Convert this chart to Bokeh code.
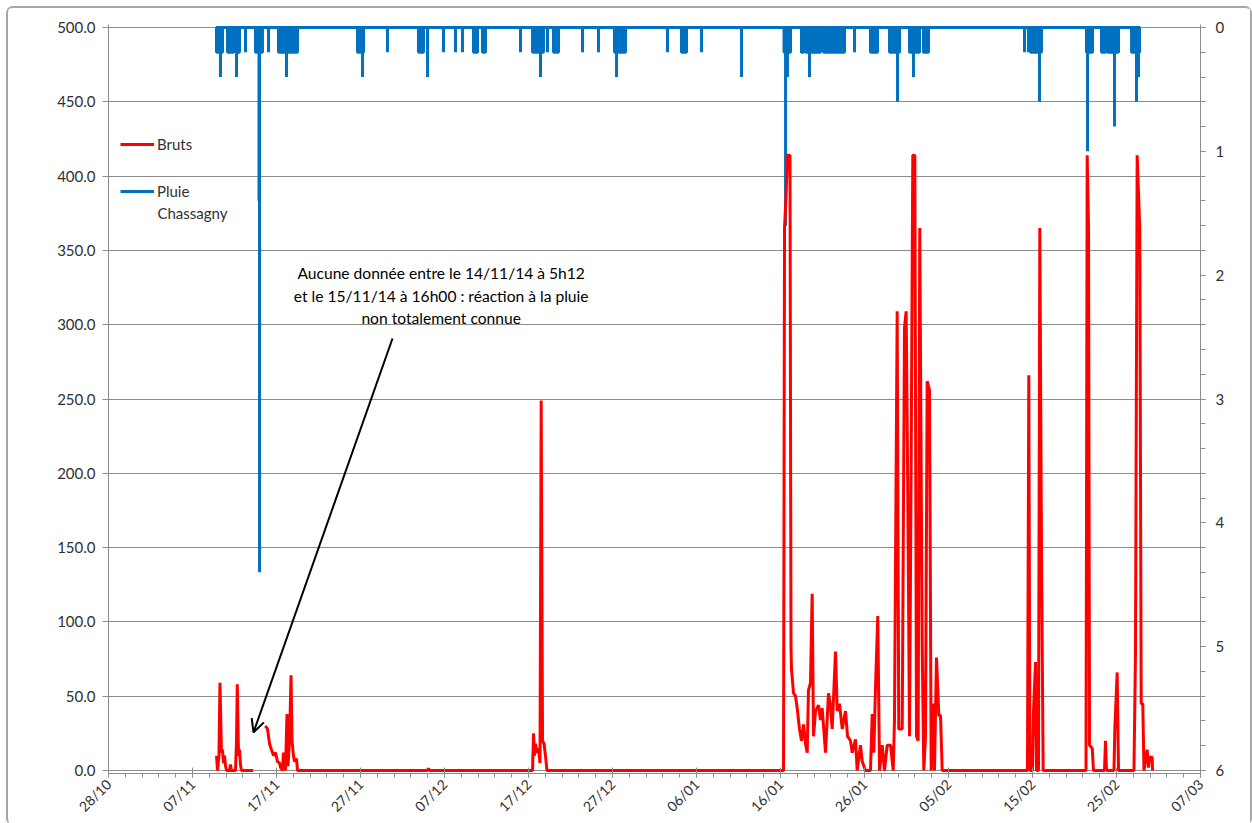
import math
import numpy as np
import pandas as pd
from bokeh.plotting import figure
from bokeh.models import (Range1d, LinearAxis, FixedTicker, DatetimeTickFormatter,
                          PrintfTickFormatter, Legend, LegendItem, Label, Arrow, OpenHead)
from bokeh.core.properties import value
from bokeh.embed import file_html
from bokeh.resources import INLINE

ORIGINE = pd.Timestamp("2014-10-28")

# Dates des graduations de l'axe X
tick_dates = ["2014-10-28", "2014-11-07", "2014-11-17", "2014-11-27", "2014-12-07",
              "2014-12-17", "2014-12-27", "2015-01-06", "2015-01-16", "2015-01-26",
              "2015-02-05", "2015-02-15", "2015-02-25", "2015-03-07"]

# Série "Bruts" : jours depuis le 28/10/2014 et valeurs (axe gauche)
bruts_jour = [12.86, 12.98, 13.15, 13.27, 13.45, 13.57, 13.69, 13.81, 13.93, 14.05,
              14.40, 14.52, 14.64, 15.12, 15.24, 15.33, 15.48, 15.60, 15.71, 15.83, 17.22,
              17.90,
              18.67, 18.93, 19.17, 19.40, 19.64, 19.88, 20.12, 20.36, 20.48, 20.71,
              20.83, 20.95, 21.07, 21.25, 21.37, 21.55, 21.73, 21.85, 22.02, 22.14, 22.38, 22.50,
              37.98, 38.10, 38.21,
              50.48, 50.60, 50.71, 50.83, 51.01, 51.19, 51.37, 51.51, 51.67, 51.85, 52.02, 52.20,
              80.36, 80.48, 80.65, 80.83, 81.13, 81.25, 81.31, 81.55, 81.79, 81.99,
              82.14, 82.26, 82.50, 82.74, 82.98, 83.18, 83.33, 83.57, 83.77, 83.93,
              84.17, 84.52, 84.76, 84.96, 85.36, 85.71, 85.92, 86.15, 86.55, 86.75,
              87.02, 87.35, 87.74, 87.98, 88.33, 88.54, 88.93, 89.13, 89.52, 89.73,
              90.12, 90.71, 90.92, 91.11, 91.31, 91.58, 91.79, 92.11, 92.38, 92.70,
              93.10, 93.42, 93.57, 93.89, 94.08, 94.49, 94.76, 94.96, 95.15, 95.36,
              95.56, 95.75, 95.99, 96.19, 96.39, 96.58, 96.87, 97.06, 97.26, 97.46,
              97.74, 97.94, 98.18, 98.33, 98.57, 98.85, 99.05, 99.25,
              109.40, 109.56, 109.70, 110.00, 110.12, 110.36, 110.48, 110.71, 110.87, 111.07, 111.27,
              116.37, 116.51, 116.67, 116.79, 117.11, 117.26,
              118.57, 118.69, 118.81,
              119.70, 119.80, 120.08, 120.24,
              122.08, 122.26, 122.46, 122.77, 122.94, 123.13, 123.27, 123.65, 123.81, 123.96,
              124.25, 124.29]
bruts_val = [10, 0, 10, 59, 12, 14, 5, 10, 3, 0,
             0, 4, 0, 0, 20, 58, 10, 14, 4, 0, 0,
             float("nan"),
             30, 28, 18, 14, 10, 12, 6, 5, 2, 0,
             12, 3, 0, 38, 3, 20, 64, 20, 10, 6, 8, 0,
             0, 1.5, 0,
             0, 25, 10, 18, 12, 15, 5, 249, 20, 18, 10, 0,
             0, 365, 385, 414, 414, 84, 68, 52, 50, 42,
             34, 28, 20, 31, 18, 12, 54, 59, 119, 23,
             40, 44, 34, 42, 12, 52, 45, 28, 80, 40,
             45, 28, 40, 23, 20, 12, 21, 0, 17, 6,
             0, 0, 38, 12, 56, 104, 0, 17, 0, 17,
             17, 0, 34, 309, 28, 28, 298, 309, 190, 23,
             213, 414, 414, 23, 20, 365, 84, 0, 23, 262,
             256, 0, 45, 0, 76, 37, 37, 0,
             0, 266, 0, 0, 40, 73, 0, 0, 365, 148, 0,
             0, 414, 364, 17, 15, 0,
             0, 20, 0,
             0, 28, 66, 0,
             0, 79, 414, 365, 45, 45, 0, 14, 2, 9,
             9, 0]

# Série "Pluie Chassagny" (axe droit, inversé) : début, fin (jours) et hauteur (mm)
pluie_debut = [12.86, 13.33, 14.17, 15.24, 15.12, 16.31, 17.50, 17.92, 17.98, 19.05,
               20.24, 21.19, 29.64, 30.24, 33.21, 36.90, 37.98, 39.88, 41.31, 42.14,
               43.45, 44.52, 49.05, 50.48, 51.43, 52.26, 52.98, 56.43, 58.33, 60.24,
               60.48, 66.55, 68.21, 70.60, 75.36, 80.42, 80.60, 80.83, 82.50, 82.98,
               83.45, 85.12, 88.81, 90.71, 92.98, 93.93, 95.36, 95.83, 97.02, 109.05,
               109.52, 109.76, 110.83, 116.43, 116.55, 118.21, 118.93, 119.76, 121.79, 122.38,
               122.62]
pluie_fin = [13.57, 13.33, 14.88, 15.24, 15.60, 16.31, 18.33, 17.92, 17.98, 19.05,
             22.50, 21.19, 30.36, 30.24, 33.21, 37.50, 37.98, 39.88, 41.31, 42.14,
             43.93, 44.88, 49.05, 51.79, 51.43, 52.26, 53.57, 56.43, 58.33, 61.55,
             60.48, 66.55, 68.81, 70.60, 75.36, 81.19, 80.60, 80.83, 82.74, 84.76,
             83.45, 87.62, 88.81, 91.55, 94.17, 93.93, 96.55, 95.83, 97.62, 109.05,
             109.52, 111.07, 110.83, 117.14, 116.55, 118.69, 120.24, 119.76, 122.74, 122.38,
             122.62]
pluie_mm = [0.2, 0.4, 0.2, 0.4, 0.2, 0.2, 0.2, 1.4, 4.4, 0.2,
            0.2, 0.4, 0.2, 0.4, 0.2, 0.2, 0.4, 0.2, 0.2, 0.2,
            0.2, 0.2, 0.2, 0.2, 0.4, 0.2, 0.2, 0.2, 0.2, 0.2,
            0.4, 0.2, 0.2, 0.2, 0.4, 0.2, 1.6, 0.4, 0.2, 0.2,
            0.4, 0.2, 0.2, 0.2, 0.2, 0.6, 0.2, 0.4, 0.2, 0.2,
            0.2, 0.2, 0.6, 0.2, 1.0, 0.2, 0.2, 0.8, 0.2, 0.6,
            0.4]

ROUGE = "#ff0000"
BLEU = "#0070c0"
GRIS = "#8c8c8c"
TEXTE = "#303030"
POLICE = "Lato"

# Échelle verticale : 500 unités sur 743 px, avec 3 px de marge en haut et en bas
PX = 743 / 500
Y_HAUT = 500 + 3 / PX
Y_BAS = -3 / PX
PLUIE_MAX = 6


def en_dates(jours):
    return ORIGINE + pd.to_timedelta(np.asarray(jours, dtype=float), unit="D")


def ms(jour):
    return (ORIGINE + pd.Timedelta(days=jour)).value / 1e6


ticks_ms = [pd.Timestamp(d).value / 1e6 for d in tick_dates]
minor_ms = [ms(d) for d in range(0, 131, 2)]

p = figure(width=1242, height=815, x_axis_type="datetime",
           x_range=Range1d(ticks_ms[0], ticks_ms[-1]), y_range=Range1d(Y_BAS, Y_HAUT),
           output_backend="svg", toolbar_location=None,
           min_border_left=100, min_border_right=50, min_border_top=16, min_border_bottom=50)
p.outline_line_color = None
p.styles = {"margin-left": "8px", "margin-top": "8px",
            "outline": "2px solid #a6a6a6", "border-radius": "5px"}
p.extra_y_ranges = {"pluie": Range1d(start=(500 - Y_BAS) * PLUIE_MAX / 500,
                                     end=(500 - Y_HAUT) * PLUIE_MAX / 500)}

# Axe gauche
ya = p.yaxis[0]
ya.ticker = FixedTicker(ticks=list(range(0, 501, 50)))
ya.formatter = PrintfTickFormatter(format="%.1f")
ya.major_tick_in = 0
ya.major_tick_out = 6
ya.major_label_standoff = 7

# Axe droit
ax_r = LinearAxis(y_range_name="pluie",
                  ticker=FixedTicker(ticks=list(range(7)), minor_ticks=[i * 0.2 for i in range(31)]))
ax_r.major_tick_in = 0
ax_r.major_tick_out = 5
ax_r.minor_tick_in = 0
ax_r.minor_tick_out = 5
ax_r.major_label_standoff = 10
p.add_layout(ax_r, "right")

# Axe X
xa = p.xaxis[0]
xa.ticker = FixedTicker(ticks=ticks_ms, minor_ticks=minor_ms)
fmt = "%d/%m"
xa.formatter = DatetimeTickFormatter(days=fmt, months=fmt, years=fmt, hours=fmt, hourmin=fmt,
                                     minutes=fmt, minsec=fmt, seconds=fmt,
                                     milliseconds=fmt, microseconds=fmt)
xa.major_label_orientation = math.pi / 4
xa.major_tick_in = 6
xa.major_tick_out = 4
xa.minor_tick_in = 0
xa.minor_tick_out = 4
xa.major_label_standoff = 4

for ax in [ya, ax_r, xa]:
    ax.axis_line_color = GRIS
    ax.major_tick_line_color = GRIS
    ax.minor_tick_line_color = GRIS if ax is not ya else None
    ax.major_label_text_font = POLICE
    ax.major_label_text_font_size = "15px"
    ax.major_label_text_color = TEXTE
xa.major_label_text_font_size = "14px"

p.xgrid.visible = False
p.ygrid.grid_line_color = GRIS
p.ygrid.grid_line_width = 1

# Pluie (hyétogramme inversé)
deb = np.array(pluie_debut)
fin = np.array(pluie_fin)
mm = np.array(pluie_mm)
bloc = fin > deb
p.quad(left=en_dates(deb[bloc]), right=en_dates(fin[bloc]), top=0, bottom=mm[bloc],
       y_range_name="pluie", fill_color=BLEU, line_color=BLEU, line_width=3)
pic = ~bloc
p.segment(x0=en_dates(deb[pic]), y0=0, x1=en_dates(deb[pic]), y1=mm[pic],
          y_range_name="pluie", line_color=BLEU, line_width=3)
r_pluie = p.line(x=en_dates([deb.min(), fin.max()]), y=[0, 0], y_range_name="pluie",
                 line_color=BLEU, line_width=3)

# Bruts
r_bruts = p.line(x=en_dates(bruts_jour), y=bruts_val, line_color=ROUGE, line_width=3,
                 line_join="bevel")

# Légende
legend = Legend(items=[LegendItem(label=value("Bruts"), renderers=[r_bruts]),
                       LegendItem(label=value("Pluie"), renderers=[r_pluie])],
                location=(12, 572), border_line_color=None, background_fill_alpha=0,
                padding=0, margin=0, spacing=27, glyph_width=34, glyph_height=20,
                label_height=20, label_standoff=3, label_text_font=POLICE,
                label_text_font_size="15px", label_text_color=TEXTE)
p.add_layout(legend)
p.add_layout(Label(x=ms(5.83), y=375.5, text="Chassagny", text_font=POLICE,
                   text_font_size="15px", text_color=TEXTE, text_baseline="middle",
                   text_align="left"))

# Annotation
lignes = ["Aucune donnée entre le 14/11/14 à 5h12",
          "et le 15/11/14 à 16h00 : réaction à la pluie",
          "non totalement connue"]
for t, yv in zip(lignes, [335.1, 319.6, 304.8]):
    p.add_layout(Label(x=ms(39.6), y=yv, text=t, text_font=POLICE, text_font_size="15.6px",
                       text_color="#000000", text_align="center", text_baseline="middle"))
p.add_layout(Arrow(end=OpenHead(size=13, line_width=2, line_color="black"),
                   x_start=ms(33.81), y_start=290.7, x_end=ms(17.26), y_end=25.6,
                   line_width=2, line_color="black"))

open("out.html", "w").write(file_html(p, INLINE))
